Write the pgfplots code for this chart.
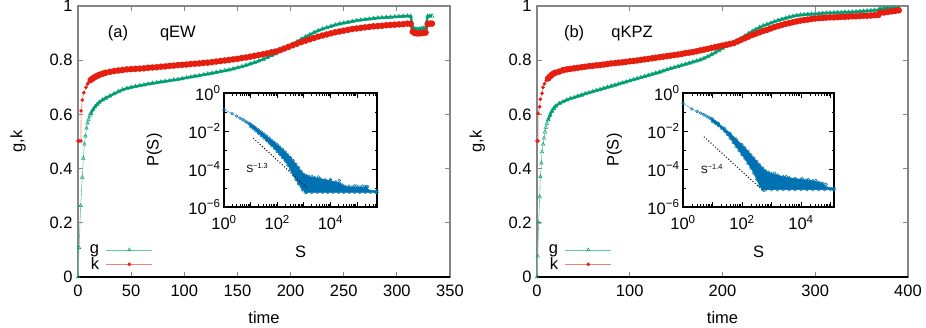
\documentclass[border=0pt]{standalone}
\usepackage{fontspec}
\setmainfont{Liberation Sans}
\usepackage{pgfplots}
\pgfplotsset{compat=1.18}
\definecolor{gpgreen}{HTML}{009E73}
\definecolor{gpred}{HTML}{E51E10}
\definecolor{gpblue}{HTML}{0072B2}
\definecolor{bordergray}{HTML}{858585}
\newcommand\fs{\fontsize{16.5bp}{19bp}\selectfont}
\newcommand\sfs{\fontsize{10.5bp}{12bp}\selectfont}
\pgfplotsset{
  mainax/.style={scale only axis, height=271bp, ymin=0, ymax=1,
    ytick={0,0.2,0.4,0.6,0.8,1}, clip=false,
    /pgf/number format/assume math mode=true,
    axis line style={bordergray, line width=1.4bp},
    tick style={bordergray, line width=0.8bp},
    major tick length=5bp,
    tick label style={font=\fs},
    xticklabel style={yshift=-4bp},
    yticklabel style={xshift=-2bp},
    every axis x label/.style={at={(axis description cs:0.5,-0.151)}, anchor=center, font=\fs},
    every axis y label/.style={at={(axis description cs:-0.161,0.5)}, rotate=90, anchor=center, font=\fs},
    xlabel={time}, ylabel={g,k},
    legend style={at={(0.026,0.127)}, anchor=north west, draw=none, fill=none, font=\fs, row sep=-1.5bp, column sep=5bp, inner sep=0pt},
    legend cell align=right, legend plot pos=right,
    legend image code/.code={\draw[mark repeat=2,mark phase=2,##1] plot coordinates {(0bp,0bp) (23bp,0bp) (46bp,0bp)};},
  },
  gline/.style={color=gpgreen!60!white, line width=0.6bp, mark=triangle, mark size=2bp, mark options={draw=gpgreen, line width=0.5bp, solid}},
  kline/.style={color=gpred!55!white, line width=0.6bp, mark=*, mark size=1.5bp, mark options={fill=gpred, draw=gpred, solid}},
  gdense/.style={draw=gpgreen, line width=2.4bp, mark=triangle, mark size=2.3bp, mark options={draw=gpgreen, line width=0.5bp, solid}},
  kdense/.style={draw=gpred, line width=2.4bp, mark=*, mark size=2bp, mark options={fill=gpred, draw=gpred, solid}},
  insetax/.style={scale only axis, height=114bp, ymin=-6, ymax=0, clip=false,
    axis line style={black, line width=1.1bp},
    tick style={black, line width=0.7bp},
    major tick length=5bp, minor tick length=2.5bp,
    tick label style={font=\fs},
    xticklabel style={yshift=-5bp},
    ytick={-6,-4,-2,0},
    yticklabels={10\textsuperscript{−6},10\textsuperscript{−4},10\textsuperscript{−2},10\textsuperscript{0}},
    minor ytick={-5,-3,-1},
    xtick={0,1,2,3,4,5},
    xticklabels={10\textsuperscript{0},,10\textsuperscript{2},,10\textsuperscript{4},},
    every axis x label/.style={at={(axis description cs:0.5,-0.395)}, anchor=center, font=\fs},
    every axis y label/.style={at={(axis description cs:-0.455,0.5)}, rotate=90, anchor=center, font=\fs},
    xlabel={S}, ylabel={P(S)},
  },
  fillst/.style={fill=gpblue, draw=gpblue, line width=0.5bp, mark=o, mark size=1.4bp, mark options={solid, line width=0.5bp}},
  sline/.style={color=gpblue!70!white, line width=0.5bp, mark=o, mark size=1.4bp, mark options={draw=gpblue, solid, line width=0.5bp}},
  spts/.style={only marks, mark=o, mark size=1.4bp, mark options={draw=gpblue, line width=0.5bp}},
}
\begin{document}
\begin{tikzpicture}
\useasboundingbox (0,0) rectangle (926bp,328bp);
% ---------------- left main panel (qEW)
\begin{axis}[mainax, width=372bp, at={(78bp,51bp)}, anchor=south west,
  xmin=0, xmax=350, xtick={0,50,100,150,200,250,300,350}]
\addplot[gline] coordinates {(0,0) (1,0.108) (2.5,0.263) (4,0.368) (5,0.438) (6,0.49) (7,0.52) (8,0.549) (9,0.568) (10,0.582) (11,0.594) (12,0.603)};
\addplot[gdense, forget plot] coordinates {(12,0.603) (14,0.617) (16,0.628) (18,0.637) (20,0.645) (23,0.653) (26,0.660) (30,0.668) (34,0.676) (38,0.684) (42,0.691) (46,0.696) (50,0.700) (54,0.703) (58,0.706) (62,0.709) (66,0.712) (70,0.715) (74,0.717) (78,0.720) (82,0.722) (86,0.724) (90,0.727) (94,0.729) (98,0.732) (102,0.735) (106,0.738) (110,0.741) (114,0.743) (118,0.746) (122,0.749) (126,0.752) (130,0.755) (134,0.758) (138,0.761) (142,0.764) (146,0.768) (150,0.772) (154,0.776) (158,0.781) (162,0.786) (166,0.791) (170,0.797) (174,0.803) (178,0.810) (182,0.817) (186,0.824) (190,0.832) (194,0.841) (198,0.850) (202,0.859) (206,0.868) (210,0.877) (214,0.886) (218,0.894) (222,0.902) (226,0.909) (230,0.915) (234,0.920) (238,0.925) (242,0.930) (246,0.934) (250,0.937) (254,0.940) (258,0.943) (262,0.946) (266,0.948) (270,0.950) (274,0.952) (278,0.954) (282,0.956) (286,0.957) (290,0.958) (294,0.959) (298,0.960) (302,0.961) (306,0.962) (310,0.963) (313,0.962) (315,0.920) (317,0.916) (319,0.915) (321,0.915) (323,0.917) (325,0.918) (327,0.919) (329,0.962) (331,0.963) (333,0.963)};
\addplot[kline] coordinates {(0,0.502) (1,0.502) (2.8,0.502) (2.9,0.613) (4,0.653) (5.5,0.680) (7.5,0.700) (9,0.712) (10,0.718) (11,0.723) (12,0.727)};
\addplot[kdense, forget plot] coordinates {(12,0.727) (14,0.733) (16,0.738) (18,0.742) (20,0.746) (23,0.750) (26,0.754) (30,0.757) (34,0.760) (38,0.762) (42,0.764) (46,0.766) (50,0.767) (54,0.768) (58,0.769) (62,0.770) (66,0.772) (70,0.773) (74,0.774) (78,0.776) (82,0.777) (86,0.779) (90,0.780) (94,0.782) (98,0.783) (102,0.784) (106,0.786) (110,0.787) (114,0.788) (118,0.790) (122,0.791) (126,0.793) (130,0.795) (134,0.797) (138,0.799) (142,0.801) (146,0.803) (150,0.805) (154,0.808) (158,0.810) (162,0.813) (166,0.816) (170,0.819) (174,0.822) (178,0.825) (182,0.829) (186,0.832) (190,0.837) (194,0.843) (198,0.849) (202,0.855) (206,0.861) (210,0.867) (214,0.872) (218,0.877) (222,0.882) (226,0.887) (230,0.891) (234,0.895) (238,0.899) (242,0.903) (246,0.906) (250,0.909) (254,0.912) (258,0.915) (262,0.917) (266,0.919) (270,0.921) (274,0.923) (278,0.925) (282,0.926) (286,0.927) (290,0.929) (294,0.930) (298,0.931) (302,0.932) (306,0.933) (310,0.935) (313,0.934) (315,0.905) (317,0.900) (319,0.899) (321,0.899) (323,0.900) (325,0.901) (327,0.902) (329,0.934) (331,0.935) (333,0.935)};
\legend{g,k}
\node[font=\fs] at (axis cs:37.6,0.90) {(a)};
\node[font=\fs] at (axis cs:94,0.90) {qEW};
\draw[black, line width=1.3bp] (rel axis cs:0,0) -- (rel axis cs:1,0);
\end{axis}
% ---------------- left inset
\begin{axis}[insetax, width=153bp, at={(224bp,121bp)}, anchor=south west, xmin=0, xmax=5.75,
  minor xtick={0.301,0.477,0.602,0.699,0.778,0.845,0.903,0.954,1.301,1.477,1.602,1.699,1.778,1.845,1.903,1.954,2.301,2.477,2.602,2.699,2.778,2.845,2.903,2.954,3.301,3.477,3.602,3.699,3.778,3.845,3.903,3.954,4.301,4.477,4.602,4.699,4.778,4.845,4.903,4.954,5.301,5.477,5.602,5.699}]
\addplot[fillst] coordinates {(1.0,-1.64) (1.1,-1.74) (1.2,-1.84) (1.3,-1.94) (1.4,-2.04) (1.5,-2.15) (1.6,-2.26) (1.7,-2.38) (1.8,-2.50) (1.9,-2.61) (2.0,-2.72) (2.1,-2.84) (2.2,-2.96) (2.3,-3.10) (2.4,-3.25) (2.5,-3.40) (2.6,-3.56) (2.7,-3.74) (2.8,-3.93) (2.9,-4.12) (3.0,-4.28) (3.1,-4.35) (3.2,-4.40) (3.4,-4.45) (3.6,-4.50) (3.8,-4.56) (4.0,-4.62) (4.2,-4.68) (4.35,-4.75) (4.45,-4.85) (4.55,-4.92) (4.8,-4.95) (5.1,-4.95) (5.35,-4.95) (5.45,-5.12) (5.75,-5.14) (5.75,-5.23) (3.05,-5.23) (2.95,-5.1) (2.9,-4.95) (2.8,-4.78) (2.7,-4.55) (2.6,-4.32) (2.5,-4.05) (2.4,-3.80) (2.3,-3.58) (2.2,-3.40) (2.1,-3.24) (2.0,-3.08) (1.9,-2.92) (1.8,-2.78) (1.7,-2.64) (1.6,-2.50) (1.5,-2.37) (1.4,-2.24) (1.3,-2.12) (1.2,-2.00) (1.1,-1.88) (1.0,-1.78)} -- cycle;
\addplot[sline] coordinates {(0,-0.88) (0.301,-1.08) (0.477,-1.22) (0.602,-1.32) (0.699,-1.40) (0.778,-1.47) (0.845,-1.53) (0.903,-1.58) (0.954,-1.62) (1.0,-1.68) (1.041,-1.72) (1.079,-1.76) (1.114,-1.79) (1.146,-1.82) (1.176,-1.85)};
\addplot[spts] coordinates {(3.3,-4.38) (3.55,-4.42) (4.0,-4.55) (4.33,-4.6) (4.7,-4.9) (4.9,-4.88) (5.0,-4.9) (5.2,-4.9) (5.3,-4.92) (5.4,-4.93) (3.1,-5.23) (3.3,-5.23) (3.5,-5.23) (3.7,-5.23) (3.9,-5.23) (4.1,-5.23) (4.3,-5.23) (4.5,-5.23) (4.7,-5.23) (4.9,-5.23) (5.1,-5.23) (5.3,-5.23) (5.5,-5.23) (5.7,-5.23)};
\addplot[black, dotted, line width=1bp] coordinates {(1.1,-2.37) (3.1,-4.97)};
\node[font=\sfs] at (axis cs:1.25,-3.95) {S\textsuperscript{−1.3}};
\end{axis}
% ---------------- right main panel (qKPZ)
\begin{axis}[mainax, width=371bp, at={(537bp,51bp)}, anchor=south west,
  xmin=0, xmax=400, xtick={0,100,200,300,400}]
\addplot[gline] coordinates {(0,0) (0.7,0.077) (1.8,0.2) (2.9,0.296) (3.6,0.37) (4.7,0.42) (5.4,0.462) (6.5,0.49) (7.5,0.512) (8.6,0.535) (9.6,0.552) (10.7,0.567) (12,0.58)};
\addplot[gdense, forget plot] coordinates {(12,0.58) (14,0.597) (16,0.612) (18,0.622) (20,0.630) (24,0.640) (28,0.647) (32,0.653) (36,0.658) (40,0.662) (44,0.667) (48,0.671) (52,0.676) (56,0.680) (60,0.684) (64,0.688) (68,0.692) (72,0.696) (76,0.700) (80,0.704) (84,0.708) (88,0.712) (92,0.716) (96,0.720) (100,0.724) (104,0.728) (108,0.732) (112,0.736) (116,0.740) (120,0.744) (124,0.748) (128,0.752) (132,0.756) (136,0.760) (140,0.765) (144,0.769) (148,0.773) (152,0.777) (156,0.781) (160,0.785) (164,0.789) (168,0.793) (172,0.797) (176,0.801) (180,0.807) (184,0.813) (188,0.820) (192,0.828) (196,0.836) (200,0.844) (204,0.852) (208,0.858) (212,0.864) (216,0.872) (220,0.880) (224,0.889) (228,0.898) (232,0.906) (236,0.914) (240,0.921) (244,0.927) (248,0.932) (252,0.937) (256,0.942) (260,0.947) (264,0.951) (268,0.955) (272,0.959) (276,0.962) (280,0.965) (284,0.967) (288,0.968) (292,0.969) (296,0.970) (300,0.971) (304,0.972) (308,0.973) (312,0.974) (316,0.975) (320,0.975) (324,0.976) (328,0.976) (332,0.977) (336,0.977) (340,0.978) (344,0.979) (348,0.980) (352,0.981) (356,0.982) (360,0.983) (364,0.984) (368,0.985) (370,0.990) (374,0.991) (378,0.992) (382,0.992) (386,0.993) (390,0.994)};
\addplot[kline] coordinates {(0,0.502) (1.1,0.502) (1.2,0.604) (2.9,0.628) (3.6,0.656) (5.4,0.678) (6.5,0.700) (8,0.713) (10,0.725) (12,0.733)};
\addplot[kdense, forget plot] coordinates {(12,0.733) (14,0.740) (16,0.746) (18,0.751) (20,0.754) (24,0.758) (28,0.763) (32,0.766) (36,0.768) (40,0.770) (44,0.772) (48,0.774) (52,0.776) (56,0.778) (60,0.779) (64,0.781) (68,0.782) (72,0.784) (76,0.786) (80,0.788) (84,0.789) (88,0.791) (92,0.792) (96,0.794) (100,0.796) (104,0.797) (108,0.799) (112,0.801) (116,0.803) (120,0.805) (124,0.807) (128,0.809) (132,0.811) (136,0.813) (140,0.815) (144,0.817) (148,0.819) (152,0.821) (156,0.823) (160,0.826) (164,0.828) (168,0.830) (172,0.833) (176,0.836) (180,0.839) (184,0.842) (188,0.845) (192,0.848) (196,0.851) (200,0.854) (204,0.857) (208,0.860) (212,0.863) (216,0.869) (220,0.875) (224,0.881) (228,0.887) (232,0.893) (236,0.898) (240,0.903) (244,0.908) (248,0.912) (252,0.917) (256,0.922) (260,0.926) (264,0.930) (268,0.934) (272,0.937) (276,0.940) (280,0.943) (284,0.946) (288,0.948) (292,0.950) (296,0.952) (300,0.954) (304,0.955) (308,0.956) (312,0.957) (316,0.958) (320,0.958) (324,0.959) (328,0.960) (332,0.960) (336,0.961) (340,0.962) (344,0.962) (348,0.963) (352,0.964) (356,0.964) (360,0.965) (364,0.966) (368,0.967) (370,0.975) (374,0.976) (378,0.978) (382,0.980) (386,0.982) (390,0.984)};
\legend{g,k}
\node[font=\fs] at (axis cs:40,0.90) {(b)};
\node[font=\fs] at (axis cs:102.4,0.90) {qKPZ};
\draw[black, line width=1.3bp] (rel axis cs:0,0) -- (rel axis cs:1,0);
\end{axis}
% ---------------- right inset
\begin{axis}[insetax, width=151bp, at={(683bp,121bp)}, anchor=south west, xmin=0, xmax=5.12,
  minor xtick={0.301,0.477,0.602,0.699,0.778,0.845,0.903,0.954,1.301,1.477,1.602,1.699,1.778,1.845,1.903,1.954,2.301,2.477,2.602,2.699,2.778,2.845,2.903,2.954,3.301,3.477,3.602,3.699,3.778,3.845,3.903,3.954,4.301,4.477,4.602,4.699,4.778,4.845,4.903,4.954}]
\addplot[fillst] coordinates {(1.0,-1.38) (1.2,-1.6) (1.4,-1.85) (1.6,-2.12) (1.8,-2.42) (2.0,-2.72) (2.1,-2.88) (2.2,-3.06) (2.3,-3.25) (2.4,-3.42) (2.5,-3.60) (2.6,-3.78) (2.7,-3.95) (2.8,-4.10) (2.9,-4.18) (3.0,-4.24) (3.2,-4.32) (3.4,-4.40) (3.6,-4.46) (3.8,-4.50) (4.0,-4.54) (4.2,-4.58) (4.4,-4.62) (4.6,-4.70) (4.75,-4.78) (4.85,-4.95) (5.12,-5.0) (5.12,-5.09) (2.7,-5.09) (2.6,-4.9) (2.5,-4.55) (2.4,-4.22) (2.3,-3.95) (2.2,-3.7) (2.1,-3.47) (2.0,-3.25) (1.9,-3.03) (1.8,-2.82) (1.7,-2.6) (1.6,-2.38) (1.5,-2.18) (1.4,-2.0) (1.3,-1.85) (1.2,-1.72) (1.1,-1.6) (1.0,-1.5)} -- cycle;
\addplot[sline] coordinates {(0,-0.53) (0.301,-0.84) (0.477,-0.97) (0.602,-1.06) (0.699,-1.13) (0.778,-1.2) (0.845,-1.26) (0.903,-1.31) (0.954,-1.36) (1,-1.41) (1.041,-1.46) (1.079,-1.5) (1.114,-1.54) (1.146,-1.58) (1.176,-1.62)};
\addplot[spts] coordinates {(3.1,-4.22) (3.5,-4.4) (4.05,-4.5) (4.25,-4.55) (4.5,-4.6) (4.7,-4.75) (4.85,-4.8) (2.8,-5.09) (3.0,-5.09) (3.2,-5.09) (3.4,-5.09) (3.6,-5.09) (3.8,-5.09) (4.0,-5.09) (4.2,-5.09) (4.4,-5.09) (4.6,-5.09) (4.8,-5.09) (5.0,-5.09) (5.1,-5.09)};
\addplot[black, dotted, line width=1bp] coordinates {(0.71,-2.3) (2.8,-5.26)};
\node[font=\sfs] at (axis cs:0.98,-4.0) {S\textsuperscript{−1.4}};
\end{axis}
\end{tikzpicture}
\end{document}
